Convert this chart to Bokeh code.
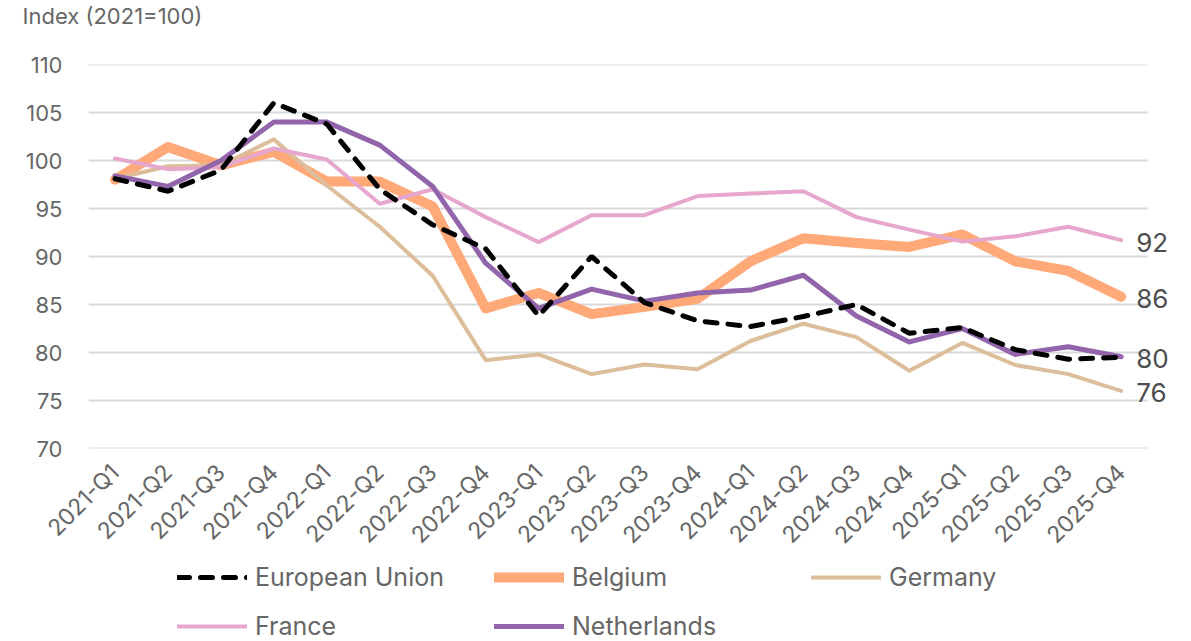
import math
from bokeh.plotting import figure
from bokeh.layouts import column
from bokeh.core.properties import value
from bokeh.models import (Range1d, FixedTicker, Legend, LegendItem,
                          LabelSet, ColumnDataSource)
from bokeh.embed import file_html
from bokeh.resources import INLINE

quarters = ["2021-Q1", "2021-Q2", "2021-Q3", "2021-Q4",
            "2022-Q1", "2022-Q2", "2022-Q3", "2022-Q4",
            "2023-Q1", "2023-Q2", "2023-Q3", "2023-Q4",
            "2024-Q1", "2024-Q2", "2024-Q3", "2024-Q4",
            "2025-Q1", "2025-Q2", "2025-Q3", "2025-Q4"]

eu = [98.1, 96.8, 99.0, 106.0, 103.8, 97.0, 93.3, 90.8, 83.8, 90.0,
      85.2, 83.3, 82.7, 83.75, 85.0, 82.0, 82.6, 80.3, 79.3, 79.5]
belgium = [98.0, 101.4, 99.5, 100.9, 97.8, 97.8, 95.2, 84.6, 86.2, 84.0,
           84.75, 85.6, 89.5, 91.9, 91.4, 91.0, 92.3, 89.5, 88.5, 85.8]
germany = [98.1, 99.4, 99.5, 102.2, 97.4, 93.1, 88.0, 79.2, 79.8, 77.75,
           78.75, 78.25, 81.2, 83.0, 81.6, 78.1, 81.0, 78.7, 77.75, 76.0]
france = [100.2, 99.1, 99.3, 101.25, 100.1, 95.5, 97.0, 94.1, 91.5, 94.3,
          94.3, 96.3, 96.55, 96.8, 94.1, 92.8, 91.55, 92.1, 93.1, 91.7]
netherlands = [98.4, 97.3, 100.0, 104.0, 104.0, 101.6, 97.3, 89.3, 84.6, 86.6,
               85.35, 86.2, 86.5, 88.05, 83.8, 81.1, 82.5, 79.8, 80.6, 79.55]

y_ticks = [70, 75, 80, 85, 90, 95, 100, 105, 110]
end_labels = ["92", "86", "80", "76"]
end_values = [france[-1], belgium[-1], netherlands[-1], germany[-1]]

series_names = ["European Union", "Belgium", "Germany", "France", "Netherlands"]
y_title = "Index (2021=100)"

FONT = "Inter"
xs = list(range(len(quarters)))
n = len(quarters)

styles = dict(
    eu=dict(line_color="black", line_width=5, line_dash="12 11", line_cap="round"),
    be=dict(line_color="#FFA878", line_width=10, line_cap="round", line_join="round"),
    de=dict(line_color="#DCBE9A", line_width=4, line_cap="round", line_join="round"),
    fr=dict(line_color="#E6A6CE", line_width=4, line_cap="round", line_join="round"),
    nl=dict(line_color="#9264AB", line_width=5, line_cap="round", line_join="round"),
)
series = dict(eu=eu, be=belgium, de=germany, fr=france, nl=netherlands)


def bare(fig):
    fig.outline_line_color = None
    fig.xgrid.visible = False
    fig.ygrid.visible = False
    fig.background_fill_color = "white"
    fig.border_fill_color = "white"


# header strip with the y-axis title
hd = figure(width=1183, height=40, x_range=Range1d(0, 1), y_range=Range1d(0, 1),
            output_backend="svg", toolbar_location=None,
            x_axis_location=None, y_axis_location=None,
            min_border_left=0, min_border_right=0, min_border_top=0, min_border_bottom=0)
bare(hd)
hd.title.text = y_title
hd.title.align = "left"
hd.title.offset = -66
hd.title.standoff = 0
hd.title.text_font = FONT
hd.title.text_font_size = "22px"
hd.title.text_font_style = "normal"
hd.title.text_color = "#666666"

# main chart
p = figure(width=1183, height=522, x_range=Range1d(-0.5, n + 0.12),
           y_range=Range1d(70, 110), output_backend="svg", toolbar_location=None,
           min_border_left=88, min_border_right=3, min_border_top=24, min_border_bottom=114)
p.outline_line_color = None
p.background_fill_color = "white"
p.border_fill_color = "white"
p.xgrid.grid_line_color = None
p.ygrid.grid_line_color = None
p.segment(x0=[-0.5] * len(y_ticks), x1=[n - 0.5] * len(y_ticks), y0=y_ticks, y1=y_ticks,
          line_color="#d9d9d9", line_width=2)

p.xaxis.ticker = FixedTicker(ticks=xs)
p.xaxis.major_label_overrides = {i: q for i, q in enumerate(quarters)}
p.yaxis.ticker = FixedTicker(ticks=y_ticks)
for ax in (p.xaxis[0], p.yaxis[0]):
    ax.axis_line_color = None
    ax.major_tick_line_color = None
    ax.minor_tick_line_color = None
    ax.major_tick_out = 0
    ax.major_tick_in = 0
    ax.minor_tick_out = 0
    ax.major_label_text_font = FONT
    ax.major_label_text_color = "#666666"
p.yaxis.major_label_text_font_size = "22px"
p.yaxis.major_label_standoff = 26
p.xaxis.major_label_text_font_size = "23px"
p.xaxis.major_label_orientation = math.pi / 4
p.xaxis.major_label_standoff = 20

for key in ["be", "de", "fr", "nl", "eu"]:
    p.line(xs, series[key], **styles[key])

src = ColumnDataSource(dict(x=[xs[-1]] * 4, y=end_values, text=end_labels))
p.add_layout(LabelSet(x="x", y="y", text="text", source=src, x_offset=15, y_offset=-2,
                      text_baseline="middle", text_align="left", text_font=value(FONT),
                      text_font_size="26px", text_color="#4d4d4d"))

# legend strip below the chart (same series; the data lie outside this strip's range)
lg = figure(width=1183, height=79, x_range=Range1d(0, 1), y_range=Range1d(0, 1),
            output_backend="svg", toolbar_location=None,
            x_axis_location=None, y_axis_location=None,
            min_border_left=0, min_border_right=0, min_border_top=0, min_border_bottom=0)
bare(lg)
keys = ["eu", "be", "de", "fr", "nl"]
items = []
for name, key in zip(series_names, keys):
    r = lg.line(xs, series[key], **styles[key])
    items.append(LegendItem(label=name, renderers=[r]))

legend = Legend(items=items, location=(89, 0), orientation="horizontal", ncols=3)
legend.label_text_font = FONT
legend.label_text_font_size = "25px"
legend.label_text_color = "#666666"
legend.glyph_width = 70
legend.glyph_height = 26
legend.label_height = 26
legend.label_width = 220
legend.label_standoff = 8
legend.spacing = 19
legend.padding = 0
legend.margin = 0
legend.border_line_color = None
legend.background_fill_alpha = 0
lg.add_layout(legend, "center")

layout = column(hd, p, lg, spacing=0)
open("out.html", "w").write(file_html(layout, INLINE))
